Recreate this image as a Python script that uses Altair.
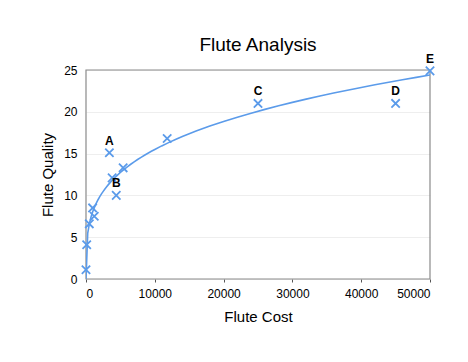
import altair as alt
import pandas as pd

cost = [0, 100, 480, 960, 1200, 3400, 3800, 4400, 5400, 11800, 25000, 45000, 50000]
quality = [1.1, 4.1, 6.6, 8.5, 7.5, 15.1, 12.1, 10.0, 13.3, 16.8, 21.0, 21.0, 24.9]
labels = ["", "", "", "", "", "A", "", "B", "", "", "C", "D", "E"]

df = pd.DataFrame({"cost": cost, "quality": quality, "label": labels})

blue = "#5b9bea"
frame_color = "#8a8a8a"
xscale = alt.Scale(domain=[0, 50000], nice=False)
yscale = alt.Scale(domain=[0, 25], nice=False)

xaxis = alt.Axis(title="Flute Cost", values=[0, 10000, 20000, 30000, 40000, 50000],
                 format="d", grid=False, tickSize=3, domain=False,
                 labelFontSize=12, titleFontSize=15, titleFontWeight="normal",
                 labelFont="Liberation Sans", titleFont="Liberation Sans",
                 labelColor="black", titleColor="black", tickColor="#555",
                 labelPadding=6, titlePadding=10)
yaxis = alt.Axis(title="Flute Quality", values=[0, 5, 10, 15, 20, 25], grid=True,
                 gridColor="#eeeeee", ticks=False, domain=False,
                 labelFontSize=12, titleFontSize=15, titleFontWeight="normal",
                 labelFont="Liberation Sans", titleFont="Liberation Sans",
                 labelColor="black", titleColor="black",
                 labelPadding=9, titlePadding=8)

base = alt.Chart(df)

points = base.mark_point(
    shape="M-1,-1L1,1M-1,1L1,-1", size=70, filled=False, strokeWidth=1.8,
    color=blue, opacity=1
).encode(
    x=alt.X("cost:Q", scale=xscale, axis=xaxis),
    y=alt.Y("quality:Q", scale=yscale, axis=yaxis),
)

curve = base.transform_filter("datum.cost > 0").transform_regression(
    "cost", "quality", method="pow", extent=[0, 50000]
).mark_line(color=blue, strokeWidth=1.6, clip=True).encode(
    x=alt.X("cost:Q", scale=xscale),
    y=alt.Y("quality:Q", scale=yscale),
)

frame = alt.Chart(pd.DataFrame({"k": [0]})).mark_rect(
    fill=None, stroke=frame_color, strokeWidth=1.2
).encode(
    x=alt.value(0), x2=alt.value(344), y=alt.value(0), y2=alt.value(209)
)

text = base.transform_filter("datum.label != ''").mark_text(
    dy=-12, fontSize=12, fontWeight="bold", font="Liberation Sans", color="black"
).encode(
    x=alt.X("cost:Q", scale=xscale),
    y=alt.Y("quality:Q", scale=yscale),
    text="label:N",
)

chart = alt.layer(frame, curve, points, text).properties(
    width=344, height=209,
    title=alt.TitleParams("Flute Analysis", fontSize=19, fontWeight="normal",
                          font="Liberation Sans", color="black", offset=-2),
    autosize=alt.AutoSizeParams(type="none"),
    padding={"left": 78, "top": 62, "right": 30, "bottom": 60},
).configure_view(stroke=None)

chart.save("out.html", embed_options={"renderer": "svg", "actions": False})
